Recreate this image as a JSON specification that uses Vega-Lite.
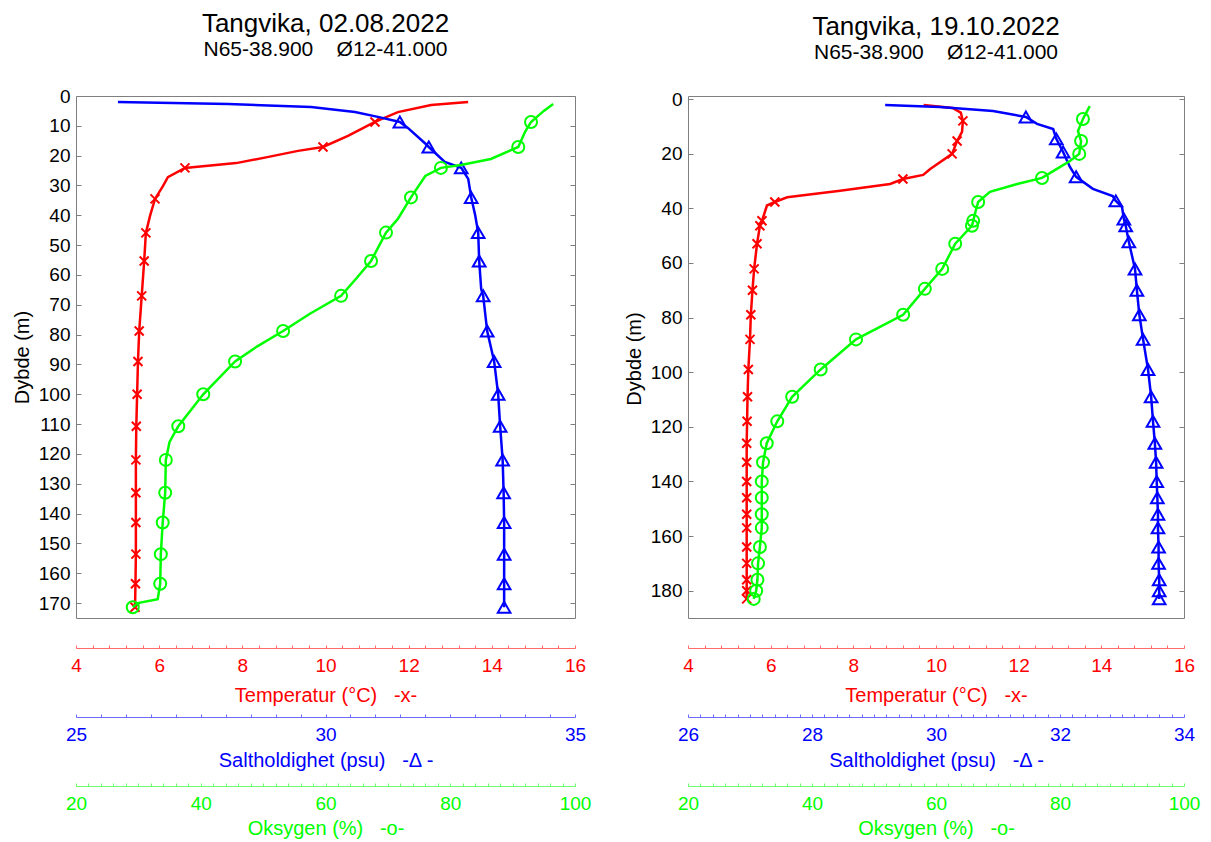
{
  "$schema": "https://vega.github.io/schema/vega-lite/v6.json",
  "padding": {"left": 11, "top": 10, "right": 5, "bottom": 0},
  "background": "white",
  "config": {
    "font": "Liberation Sans",
    "view": {"stroke": "#7f7f7f", "strokeWidth": 1},
    "title": {"font": "Liberation Sans", "subtitleFont": "Liberation Sans", "color": "#000000", "subtitleColor": "#000000", "fontWeight": "normal", "fontSize": 26, "subtitleFontSize": 21, "anchor": "middle", "offset": 27, "subtitlePadding": 2},
    "axis": {"labelFont": "Liberation Sans", "titleFont": "Liberation Sans", "titleFontWeight": "normal", "grid": false, "labelFlush": false, "labelOverlap": false}
  },
  "datasets": {
    "LT": [
      {"d": 2.0, "v": 13.43, "m": 0}, {"d": 3.0, "v": 12.54, "m": 0}, {"d": 5.4, "v": 11.74, "m": 0}, {"d": 8.7, "v": 11.19, "m": 1},
      {"d": 13.4, "v": 10.54, "m": 0}, {"d": 17.1, "v": 9.94, "m": 1}, {"d": 18.4, "v": 9.34, "m": 0}, {"d": 20.5, "v": 8.6, "m": 0},
      {"d": 22.5, "v": 7.85, "m": 0}, {"d": 24.1, "v": 6.62, "m": 1}, {"d": 27.2, "v": 6.21, "m": 0}, {"d": 30.2, "v": 6.09, "m": 0},
      {"d": 34.5, "v": 5.9, "m": 1}, {"d": 40.2, "v": 5.78, "m": 0}, {"d": 45.9, "v": 5.68, "m": 1}, {"d": 55.3, "v": 5.64, "m": 1},
      {"d": 67, "v": 5.58, "m": 1}, {"d": 78.8, "v": 5.52, "m": 1}, {"d": 89, "v": 5.49, "m": 1}, {"d": 100, "v": 5.47, "m": 1},
      {"d": 110.7, "v": 5.45, "m": 1}, {"d": 122, "v": 5.44, "m": 1}, {"d": 133, "v": 5.44, "m": 1}, {"d": 143, "v": 5.44, "m": 1},
      {"d": 153.6, "v": 5.44, "m": 1}, {"d": 163.5, "v": 5.43, "m": 1}, {"d": 171.4, "v": 5.42, "m": 1}
    ],
    "LS": [
      {"d": 2.0, "v": 25.84, "m": 0}, {"d": 2.7, "v": 28.05, "m": 0}, {"d": 3.7, "v": 29.71, "m": 0}, {"d": 5.4, "v": 30.59, "m": 0},
      {"d": 7.0, "v": 31.05, "m": 0}, {"d": 8.7, "v": 31.49, "m": 1}, {"d": 10.7, "v": 31.65, "m": 0}, {"d": 16.1, "v": 32.01, "m": 0},
      {"d": 17.1, "v": 32.07, "m": 1}, {"d": 22.1, "v": 32.39, "m": 0}, {"d": 24.1, "v": 32.72, "m": 1}, {"d": 27.8, "v": 32.86, "m": 0},
      {"d": 34, "v": 32.92, "m": 1}, {"d": 40, "v": 33.0, "m": 0}, {"d": 45.8, "v": 33.06, "m": 1}, {"d": 55.3, "v": 33.08, "m": 1},
      {"d": 64.7, "v": 33.12, "m": 0}, {"d": 67, "v": 33.16, "m": 1}, {"d": 78.8, "v": 33.24, "m": 1}, {"d": 89, "v": 33.38, "m": 1},
      {"d": 100, "v": 33.46, "m": 1}, {"d": 110.7, "v": 33.5, "m": 1}, {"d": 122, "v": 33.55, "m": 1}, {"d": 133, "v": 33.57, "m": 1},
      {"d": 143, "v": 33.58, "m": 1}, {"d": 153.6, "v": 33.58, "m": 1}, {"d": 163.5, "v": 33.58, "m": 1}, {"d": 171.4, "v": 33.58, "m": 1}
    ],
    "LO": [
      {"d": 2.7, "v": 96.5, "m": 0}, {"d": 5, "v": 95.0, "m": 0}, {"d": 8.7, "v": 92.95, "m": 1}, {"d": 12, "v": 92.0, "m": 0},
      {"d": 17.1, "v": 90.9, "m": 1}, {"d": 21.1, "v": 86.5, "m": 0}, {"d": 23.1, "v": 81.7, "m": 0}, {"d": 24.1, "v": 78.5, "m": 1},
      {"d": 26.8, "v": 76.0, "m": 0}, {"d": 34, "v": 73.7, "m": 1}, {"d": 41.2, "v": 71.6, "m": 0}, {"d": 45.8, "v": 69.7, "m": 1},
      {"d": 55.3, "v": 67.3, "m": 1}, {"d": 61, "v": 65.0, "m": 0}, {"d": 67, "v": 62.5, "m": 1}, {"d": 73, "v": 57.5, "m": 0},
      {"d": 78.8, "v": 53.2, "m": 1}, {"d": 84, "v": 49.0, "m": 0}, {"d": 89, "v": 45.5, "m": 1}, {"d": 100, "v": 40.4, "m": 1},
      {"d": 110.7, "v": 36.4, "m": 1}, {"d": 116, "v": 35.0, "m": 0}, {"d": 122, "v": 34.4, "m": 1}, {"d": 133, "v": 34.3, "m": 1},
      {"d": 143, "v": 33.9, "m": 1}, {"d": 153.6, "v": 33.6, "m": 1}, {"d": 163.5, "v": 33.5, "m": 1}, {"d": 168.7, "v": 33.1, "m": 0},
      {"d": 170, "v": 29.9, "m": 0}, {"d": 171.4, "v": 29.1, "m": 1}
    ],
    "RT": [
      {"d": 2.2, "v": 9.7, "m": 0}, {"d": 3.3, "v": 10.4, "m": 0}, {"d": 5, "v": 10.6, "m": 0}, {"d": 8.0, "v": 10.65, "m": 1},
      {"d": 12, "v": 10.63, "m": 0}, {"d": 15.4, "v": 10.51, "m": 1}, {"d": 20.1, "v": 10.39, "m": 1}, {"d": 25.6, "v": 9.86, "m": 0},
      {"d": 27.8, "v": 9.69, "m": 0}, {"d": 29.3, "v": 9.2, "m": 1}, {"d": 31.1, "v": 8.89, "m": 0}, {"d": 33.6, "v": 7.68, "m": 0},
      {"d": 36, "v": 6.4, "m": 0}, {"d": 37.7, "v": 6.1, "m": 1}, {"d": 39, "v": 5.91, "m": 0}, {"d": 44.6, "v": 5.79, "m": 1},
      {"d": 46.4, "v": 5.74, "m": 1}, {"d": 53, "v": 5.67, "m": 1}, {"d": 62.2, "v": 5.6, "m": 1}, {"d": 70, "v": 5.56, "m": 1},
      {"d": 79, "v": 5.52, "m": 1}, {"d": 88, "v": 5.5, "m": 1}, {"d": 99, "v": 5.46, "m": 1}, {"d": 109, "v": 5.44, "m": 1},
      {"d": 118, "v": 5.43, "m": 1}, {"d": 126, "v": 5.42, "m": 1}, {"d": 133, "v": 5.42, "m": 1}, {"d": 140, "v": 5.42, "m": 1},
      {"d": 146, "v": 5.42, "m": 1}, {"d": 152, "v": 5.42, "m": 1}, {"d": 157, "v": 5.42, "m": 1}, {"d": 164, "v": 5.42, "m": 1},
      {"d": 170, "v": 5.42, "m": 1}, {"d": 176, "v": 5.42, "m": 1}, {"d": 180, "v": 5.42, "m": 1}, {"d": 183, "v": 5.42, "m": 1}
    ],
    "RS": [
      {"d": 2.2, "v": 29.18, "m": 0}, {"d": 2.9, "v": 30.06, "m": 0}, {"d": 4.4, "v": 30.92, "m": 0}, {"d": 5.5, "v": 31.19, "m": 0},
      {"d": 6.6, "v": 31.45, "m": 1}, {"d": 9.1, "v": 31.63, "m": 0}, {"d": 11, "v": 31.89, "m": 0}, {"d": 14.6, "v": 31.94, "m": 1},
      {"d": 19.4, "v": 32.05, "m": 1}, {"d": 24.9, "v": 32.16, "m": 0}, {"d": 28.5, "v": 32.26, "m": 1}, {"d": 32.9, "v": 32.53, "m": 0},
      {"d": 35.5, "v": 32.85, "m": 0}, {"d": 37.3, "v": 32.9, "m": 1}, {"d": 39.5, "v": 33.0, "m": 0}, {"d": 43.9, "v": 33.03, "m": 1},
      {"d": 46.4, "v": 33.06, "m": 1}, {"d": 52.3, "v": 33.11, "m": 1}, {"d": 62.2, "v": 33.21, "m": 1}, {"d": 70, "v": 33.24, "m": 1},
      {"d": 79, "v": 33.28, "m": 1}, {"d": 88, "v": 33.34, "m": 1}, {"d": 99, "v": 33.42, "m": 1}, {"d": 109, "v": 33.47, "m": 1},
      {"d": 118, "v": 33.5, "m": 1}, {"d": 126, "v": 33.53, "m": 1}, {"d": 133, "v": 33.55, "m": 1}, {"d": 140, "v": 33.56, "m": 1},
      {"d": 146, "v": 33.57, "m": 1}, {"d": 152, "v": 33.58, "m": 1}, {"d": 157, "v": 33.58, "m": 1}, {"d": 164, "v": 33.59, "m": 1},
      {"d": 170, "v": 33.59, "m": 1}, {"d": 176, "v": 33.6, "m": 1}, {"d": 180, "v": 33.6, "m": 1}, {"d": 183, "v": 33.6, "m": 1}
    ],
    "RO": [
      {"d": 2.6, "v": 84.8, "m": 0}, {"d": 7.3, "v": 83.7, "m": 1}, {"d": 11.7, "v": 82.9, "m": 0}, {"d": 15.4, "v": 83.4, "m": 1},
      {"d": 20.1, "v": 83.1, "m": 1}, {"d": 22.7, "v": 81.6, "m": 0}, {"d": 25.6, "v": 79.5, "m": 0}, {"d": 28.9, "v": 77.1, "m": 1},
      {"d": 31.1, "v": 73.1, "m": 0}, {"d": 34, "v": 68.7, "m": 0}, {"d": 37.7, "v": 66.8, "m": 1}, {"d": 41, "v": 66.4, "m": 0},
      {"d": 44.6, "v": 66.0, "m": 1}, {"d": 46.4, "v": 65.8, "m": 1}, {"d": 53, "v": 63.1, "m": 1}, {"d": 62.2, "v": 61.0, "m": 1},
      {"d": 69.5, "v": 58.2, "m": 1}, {"d": 79, "v": 54.7, "m": 1}, {"d": 84, "v": 50.5, "m": 0}, {"d": 88, "v": 47.1, "m": 1},
      {"d": 99, "v": 41.4, "m": 1}, {"d": 109, "v": 36.8, "m": 1}, {"d": 118, "v": 34.4, "m": 1}, {"d": 126, "v": 32.7, "m": 1},
      {"d": 133, "v": 32.1, "m": 1}, {"d": 140, "v": 31.9, "m": 1}, {"d": 146, "v": 31.9, "m": 1}, {"d": 152, "v": 31.9, "m": 1},
      {"d": 157, "v": 31.9, "m": 1}, {"d": 164, "v": 31.6, "m": 1}, {"d": 170, "v": 31.3, "m": 1}, {"d": 176, "v": 31.2, "m": 1},
      {"d": 180, "v": 31.0, "m": 1}, {"d": 183, "v": 30.6, "m": 1}
    ]
  },
  "hconcat": [
    {
      "title": {"text": "Tangvika, 02.08.2022", "subtitle": "N65-38.900\u00a0\u00a0\u00a0\u00a0Ø12-41.000"},
      "width": 499,
      "height": 522,
      "resolve": {"scale": {"x": "independent"}, "axis": {"x": "independent", "y": "independent"}},
      "layer": [
        {
          "data": {"name": "LT"},
          "encoding": {
            "x": {"field": "v", "type": "quantitative", "scale": {"domain": [4, 16], "range": [0, 499], "nice": false, "zero": false},
              "axis": {"orient": "bottom", "offset": 30, "values": [4,4.4,4.8,5.2,5.6,6,6.4,6.8,7.2,7.6,8,8.4,8.8,9.2,9.6,10,10.4,10.8,11.2,11.6,12,12.4,12.8,13.2,13.6,14,14.4,14.8,15.2,15.6,16],
                "labelExpr": "datum.value % 2 == 0 ? '' + datum.value : ''", "tickSize": -3, "tickColor": "#ff6a6a",
                "domainColor": "#ff6a6a", "labelColor": "#ff0000", "labelFontSize": 19, "labelPadding": 11,
                "title": "Temperatur (°C)\u00a0\u00a0\u00a0-x-", "titleColor": "#ff0000", "titleFontSize": 20, "titlePadding": 10}},
            "y": {"field": "d", "type": "quantitative", "scale": {"domain": [0, 175], "range": [0, 522], "nice": false, "zero": false},
              "axis": {"orient": "left", "values": [0,10,20,30,40,50,60,70,80,90,100,110,120,130,140,150,160,170], "domain": false, "tickSize": -5, "tickColor": "#7f7f7f", "labelFontSize": 19, "labelColor": "#000000", "labelPadding": 11, "title": "Dybde (m)", "titleFontSize": 20, "titleColor": "#000000", "titlePadding": 6}},
            "order": {"field": "d", "type": "quantitative"}
          },
          "layer": [
            {"mark": {"type": "line", "color": "#ff0000", "strokeWidth": 2.5}},
            {"transform": [{"filter": "datum.m == 1"}], "mark": {"type": "point", "shape": "M-1,-1L1,1M-1,1L1,-1", "filled": false, "stroke": "#ff0000", "strokeWidth": 2, "size": 81, "opacity": 1}}
          ]
        },
        {
          "data": {"name": "LS"},
          "encoding": {
            "x": {"field": "v", "type": "quantitative", "scale": {"domain": [25, 35], "range": [0, 499], "nice": false, "zero": false},
              "axis": {"orient": "bottom", "offset": 99, "values": [25,25.5,26,26.5,27,27.5,28,28.5,29,29.5,30,30.5,31,31.5,32,32.5,33,33.5,34,34.5,35],
                "labelExpr": "datum.value % 5 == 0 ? '' + datum.value : ''", "tickSize": -3, "tickColor": "#6a6aff",
                "domainColor": "#6a6aff", "labelColor": "#0000ff", "labelFontSize": 19, "labelPadding": 11,
                "title": "Saltholdighet (psu)\u00a0\u00a0\u00a0-Δ -", "titleColor": "#0000ff", "titleFontSize": 20, "titlePadding": 6}},
            "y": {"field": "d", "type": "quantitative", "scale": {"domain": [0, 175], "range": [0, 522], "nice": false, "zero": false},
              "axis": {"orient": "right", "values": [0,10,20,30,40,50,60,70,80,90,100,110,120,130,140,150,160,170], "domain": false, "labels": false, "tickSize": -5, "tickColor": "#7f7f7f", "title": null}},
            "order": {"field": "d", "type": "quantitative"}
          },
          "layer": [
            {"mark": {"type": "line", "color": "#0000ff", "strokeWidth": 2.5}},
            {"transform": [{"filter": "datum.m == 1"}], "mark": {"type": "point", "shape": "triangle-up", "filled": false, "stroke": "#0000ff", "strokeWidth": 2, "size": 160, "opacity": 1}}
          ]
        },
        {
          "data": {"name": "LO"},
          "encoding": {
            "x": {"field": "v", "type": "quantitative", "scale": {"domain": [20, 100], "range": [0, 499], "nice": false, "zero": false},
              "axis": {"orient": "bottom", "offset": 168, "values": [20,22,24,26,28,30,32,34,36,38,40,42,44,46,48,50,52,54,56,58,60,62,64,66,68,70,72,74,76,78,80,82,84,86,88,90,92,94,96,98,100],
                "labelExpr": "datum.value % 20 == 0 ? '' + datum.value : ''", "tickSize": -3, "tickColor": "#6aff6a",
                "domainColor": "#6aff6a", "labelColor": "#00ff00", "labelFontSize": 19, "labelPadding": 11,
                "title": "Oksygen (%)\u00a0\u00a0\u00a0-o-", "titleColor": "#00ff00", "titleFontSize": 20, "titlePadding": 5}},
            "y": {"field": "d", "type": "quantitative", "scale": {"domain": [0, 175], "range": [0, 522], "nice": false, "zero": false}, "axis": null},
            "order": {"field": "d", "type": "quantitative"}
          },
          "layer": [
            {"mark": {"type": "line", "color": "#00ff00", "strokeWidth": 2.5}},
            {"transform": [{"filter": "datum.m == 1"}], "mark": {"type": "point", "shape": "circle", "filled": false, "stroke": "#00ff00", "strokeWidth": 2, "size": 144, "opacity": 1}}
          ]
        }
      ]
    },
    {
      "title": {"text": "Tangvika, 19.10.2022", "subtitle": "N65-38.900\u00a0\u00a0\u00a0\u00a0Ø12-41.000"},
      "width": 496,
      "height": 522,
      "resolve": {"scale": {"x": "independent"}, "axis": {"x": "independent", "y": "independent"}},
      "layer": [
        {
          "data": {"name": "RT"},
          "encoding": {
            "x": {"field": "v", "type": "quantitative", "scale": {"domain": [4, 16], "range": [0, 496], "nice": false, "zero": false},
              "axis": {"orient": "bottom", "offset": 30, "values": [4,4.4,4.8,5.2,5.6,6,6.4,6.8,7.2,7.6,8,8.4,8.8,9.2,9.6,10,10.4,10.8,11.2,11.6,12,12.4,12.8,13.2,13.6,14,14.4,14.8,15.2,15.6,16],
                "labelExpr": "datum.value % 2 == 0 ? '' + datum.value : ''", "tickSize": -3, "tickColor": "#ff6a6a",
                "domainColor": "#ff6a6a", "labelColor": "#ff0000", "labelFontSize": 19, "labelPadding": 11,
                "title": "Temperatur (°C)\u00a0\u00a0\u00a0-x-", "titleColor": "#ff0000", "titleFontSize": 20, "titlePadding": 10}},
            "y": {"field": "d", "type": "quantitative", "scale": {"domain": [0, 190], "range": [3, 522], "nice": false, "zero": false},
              "axis": {"orient": "left", "values": [0,20,40,60,80,100,120,140,160,180], "domain": false, "tickSize": -5, "tickColor": "#7f7f7f", "labelFontSize": 19, "labelColor": "#000000", "labelPadding": 11, "title": "Dybde (m)", "titleFontSize": 20, "titleColor": "#000000", "titlePadding": 6}},
            "order": {"field": "d", "type": "quantitative"}
          },
          "layer": [
            {"mark": {"type": "line", "color": "#ff0000", "strokeWidth": 2.5}},
            {"transform": [{"filter": "datum.m == 1"}], "mark": {"type": "point", "shape": "M-1,-1L1,1M-1,1L1,-1", "filled": false, "stroke": "#ff0000", "strokeWidth": 2, "size": 81, "opacity": 1}}
          ]
        },
        {
          "data": {"name": "RS"},
          "encoding": {
            "x": {"field": "v", "type": "quantitative", "scale": {"domain": [26, 34], "range": [0, 496], "nice": false, "zero": false},
              "axis": {"orient": "bottom", "offset": 99, "values": [26,26.2,26.4,26.6,26.8,27,27.2,27.4,27.6,27.8,28,28.2,28.4,28.6,28.8,29,29.2,29.4,29.6,29.8,30,30.2,30.4,30.6,30.8,31,31.2,31.4,31.6,31.8,32,32.2,32.4,32.6,32.8,33,33.2,33.4,33.6,33.8,34],
                "labelExpr": "datum.value % 2 == 0 ? '' + datum.value : ''", "tickSize": -3, "tickColor": "#6a6aff",
                "domainColor": "#6a6aff", "labelColor": "#0000ff", "labelFontSize": 19, "labelPadding": 11,
                "title": "Saltholdighet (psu)\u00a0\u00a0\u00a0-Δ -", "titleColor": "#0000ff", "titleFontSize": 20, "titlePadding": 6}},
            "y": {"field": "d", "type": "quantitative", "scale": {"domain": [0, 190], "range": [3, 522], "nice": false, "zero": false},
              "axis": {"orient": "right", "values": [0,20,40,60,80,100,120,140,160,180], "domain": false, "labels": false, "tickSize": -5, "tickColor": "#7f7f7f", "title": null}},
            "order": {"field": "d", "type": "quantitative"}
          },
          "layer": [
            {"mark": {"type": "line", "color": "#0000ff", "strokeWidth": 2.5}},
            {"transform": [{"filter": "datum.m == 1"}], "mark": {"type": "point", "shape": "triangle-up", "filled": false, "stroke": "#0000ff", "strokeWidth": 2, "size": 160, "opacity": 1}}
          ]
        },
        {
          "data": {"name": "RO"},
          "encoding": {
            "x": {"field": "v", "type": "quantitative", "scale": {"domain": [20, 100], "range": [0, 496], "nice": false, "zero": false},
              "axis": {"orient": "bottom", "offset": 168, "values": [20,22,24,26,28,30,32,34,36,38,40,42,44,46,48,50,52,54,56,58,60,62,64,66,68,70,72,74,76,78,80,82,84,86,88,90,92,94,96,98,100],
                "labelExpr": "datum.value % 20 == 0 ? '' + datum.value : ''", "tickSize": -3, "tickColor": "#6aff6a",
                "domainColor": "#6aff6a", "labelColor": "#00ff00", "labelFontSize": 19, "labelPadding": 11,
                "title": "Oksygen (%)\u00a0\u00a0\u00a0-o-", "titleColor": "#00ff00", "titleFontSize": 20, "titlePadding": 5}},
            "y": {"field": "d", "type": "quantitative", "scale": {"domain": [0, 190], "range": [3, 522], "nice": false, "zero": false}, "axis": null},
            "order": {"field": "d", "type": "quantitative"}
          },
          "layer": [
            {"mark": {"type": "line", "color": "#00ff00", "strokeWidth": 2.5}},
            {"transform": [{"filter": "datum.m == 1"}], "mark": {"type": "point", "shape": "circle", "filled": false, "stroke": "#00ff00", "strokeWidth": 2, "size": 144, "opacity": 1}}
          ]
        }
      ]
    }
  ],
  "spacing": 113,
  "bounds": "flush"
}
